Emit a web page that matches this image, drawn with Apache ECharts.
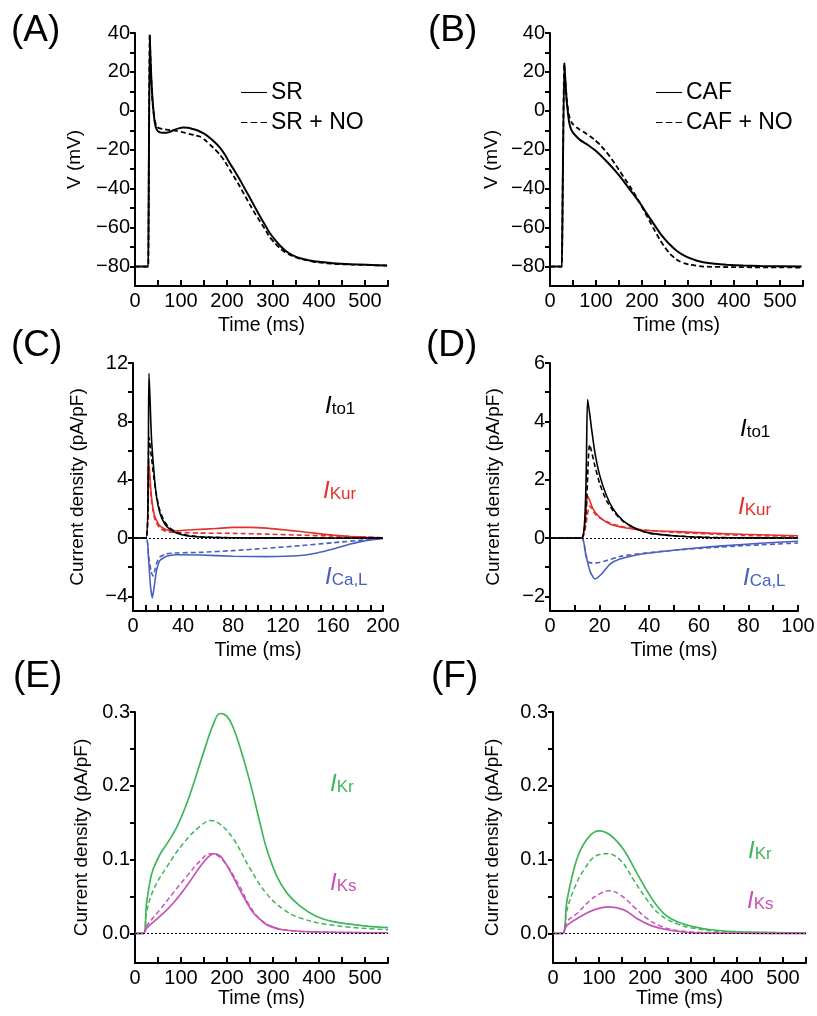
<!DOCTYPE html>
<html>
<head>
<meta charset="utf-8">
<title>AP and ionic currents, SR vs CAF, with NO</title>
<script src="https://cdn.jsdelivr.net/npm/echarts@6.0.0/dist/echarts.min.js"></script>
<style>
html,body{margin:0;padding:0;background:#fff;}
#main{width:817px;height:1016px;}
</style>
</head>
<body>
<div id="main"></div>
<script>
// ---------- data: [time (ms), value] ----------
// (A) action potential, sinus rhythm (mV)
const apSR = [[0,-80],[29,-80],[30.5,-80],[32,39],[34,25],[36,14],[38,6],[40,0.5],[43,-6],[47,-9.5],[52,-10.8],[60,-11.3],[68,-11.2],[76,-10.8],[85,-9.8],[95,-9],[105,-8.6],[115,-8.7],[120,-8.9],[130,-9.6],[141,-10.6],[152,-12],[163,-14],[174,-16.3],[185,-19],[196,-22.7],[206,-26.9],[217,-31],[228,-35.4],[239,-40.1],[250,-44.8],[261,-49.6],[272,-54.3],[283,-58.8],[293,-62.8],[304,-66.2],[315,-69.2],[326,-71.6],[337,-73.5],[348,-74.8],[359,-75.7],[380,-76.9],[400,-77.6],[431,-78.3],[470,-78.8],[504,-79.1],[548,-79.5]];
const apSRNO = [[0,-80],[29,-80],[30.5,-80],[32,38.5],[34,24],[36,13],[38,5],[40,0],[43,-5],[47,-7.8],[52,-8.9],[60,-9.3],[69,-9.7],[80,-10],[90,-10.3],[100,-10.8],[110,-11.4],[120,-12],[130,-12.5],[141,-13.2],[152,-15],[163,-17.4],[174,-19.8],[185,-22.6],[196,-26.2],[206,-30.3],[217,-34.5],[228,-38.9],[239,-43.6],[250,-48.3],[261,-52.8],[272,-56.9],[283,-61],[293,-64.9],[304,-68],[315,-70.6],[326,-72.6],[337,-74],[348,-75.1],[359,-76],[380,-77.1],[395,-77.8],[431,-78.6],[470,-79],[548,-79.5]];
// (B) action potential, chronic AF (mV)
const apCAF = [[0,-80],[26,-80],[27.5,-80],[31,24.5],[33,17],[36,5.7],[39,-1],[42,-6.3],[46,-9.5],[50.7,-11.4],[58,-13.3],[65,-14.9],[76,-16.6],[87,-18.3],[98,-20.3],[108.7,-22.6],[119,-25],[130,-27.7],[141,-30.6],[152,-33.7],[163,-37.1],[174,-40.6],[185,-44],[195.7,-47.4],[206,-51.2],[217,-55.1],[228,-59],[239,-62.8],[250,-66],[261,-68.8],[272,-71.2],[282.6,-73.1],[293,-74.5],[304,-75.7],[318,-76.9],[333,-77.8],[358,-78.6],[384,-79.1],[420,-79.5],[456,-79.7],[547,-80]];
const apCAFNO = [[0,-80],[26,-80],[27.5,-80],[31,24],[33,17.5],[36,7],[39,1],[42,-2.9],[46,-5.5],[50.7,-7.1],[58,-8.6],[65,-9.7],[76,-11.3],[87,-13.1],[98,-15.1],[108.7,-17.4],[119,-20.2],[130,-23.4],[141,-27.2],[152,-31.1],[163,-35],[174,-38.9],[185,-43.1],[195.7,-47.4],[206,-52.1],[217,-56.9],[228,-61.7],[239,-66.3],[250,-70.2],[261,-73.5],[272,-75.8],[282.6,-77.4],[293,-78.4],[304,-79.1],[333,-80],[400,-80.3],[547,-80.5]];

// (C) SR currents (pA/pF)
const srTo1 = [[0,0],[10.5,0],[12.8,11.3],[14.7,7],[16.6,4.7],[18.7,2.9],[21.4,1.75],[25.4,0.95],[29.4,0.61],[34.8,0.34],[42.8,0.16],[53.5,0.07],[80,0.02],[120,0.01],[200,0]];
const srTo1NO = [[0,0],[10.5,0],[12.8,6.9],[14.7,5.6],[16.6,4.2],[18.7,3],[21.4,1.9],[25.4,1.1],[29.4,0.7],[34.8,0.4],[42.8,0.2],[53.5,0.09],[80,0.02],[200,0]];
const srKur = [[0,0],[10.5,0],[12.5,5.4],[14.7,2.9],[17.4,1.5],[21.4,0.84],[26.7,0.57],[34.8,0.5],[48,0.57],[67,0.66],[80,0.73],[93.6,0.73],[107,0.68],[120,0.57],[134,0.45],[147,0.32],[160,0.2],[174,0.11],[187,0.05],[200,0.02]];
const srKurNO = [[0,0],[10.5,0],[12.5,4.7],[14.7,2.6],[17.4,1.3],[21.4,0.7],[26.7,0.45],[34.8,0.39],[53.5,0.34],[80,0.32],[107,0.27],[134,0.2],[160,0.14],[187,0.07],[200,0.02]];
const srCaL = [[0,0],[10.5,0],[12.5,-1.5],[14,-3.3],[15.5,-4.1],[17,-3.3],[18.7,-2.3],[21.4,-1.55],[26.7,-1.25],[34.8,-1.14],[53.5,-1.16],[80,-1.25],[107,-1.27],[134,-1.2],[147,-1.02],[160,-0.75],[174,-0.41],[187,-0.16],[200,-0.02]];
const srCaLNO = [[0,0],[10.5,0],[12.5,-1.2],[14.5,-2.3],[16,-2.6],[17.5,-2.2],[19,-1.7],[21.4,-1.3],[26.7,-1.09],[34.8,-1.02],[53.5,-0.98],[80,-0.86],[107,-0.7],[134,-0.52],[160,-0.32],[187,-0.11],[200,-0.02]];

// (D) CAF currents (pA/pF)
const cafTo1 = [[0,0],[12.75,0],[15.2,4.75],[16.8,3.72],[18.1,2.93],[20.1,2.13],[22.8,1.45],[25.5,0.99],[29.5,0.59],[34.9,0.31],[40.3,0.17],[51,0.07],[64.4,0.02],[100,0]];
const cafTo1NO = [[0,0],[12.75,0],[16,3.2],[18.1,2.47],[20.1,1.85],[22.8,1.28],[25.5,0.93],[29.5,0.57],[34.9,0.31],[40.3,0.16],[51,0.07],[64.4,0.02],[100,0]];
const cafKur = [[0,0],[12.75,0],[15.2,1.45],[17.4,0.99],[20.1,0.71],[24.2,0.48],[29.5,0.36],[37.6,0.27],[51,0.22],[64.4,0.17],[77.8,0.13],[100,0.08]];
const cafKurNO = [[0,0],[12.75,0],[16,1.1],[18.8,0.76],[24.2,0.51],[30.9,0.36],[37.6,0.28],[51,0.19],[64.4,0.14],[77.8,0.09],[100,0.06]];
const cafCaL = [[0,0],[12.75,0],[14.5,-0.6],[16.2,-1.15],[18.1,-1.4],[20.8,-1.23],[24.2,-0.89],[28.2,-0.72],[34.9,-0.58],[44.3,-0.47],[57.7,-0.35],[71,-0.26],[84.6,-0.18],[100,-0.11]];
const cafCaLNO = [[0,0],[12.75,0],[14.5,-0.6],[16,-0.85],[18.8,-0.85],[22.8,-0.77],[28.2,-0.63],[37.6,-0.52],[51,-0.41],[64.4,-0.33],[77.8,-0.26],[100,-0.17]];

// (E) SR delayed rectifiers (pA/pF)
const srKr = [[0,0],[18,0],[25,0.04],[33,0.072],[40,0.088],[55,0.108],[70,0.122],[90,0.143],[110,0.172],[130,0.208],[150,0.247],[170,0.283],[185,0.298],[200,0.294],[214,0.278],[228,0.253],[250,0.205],[272,0.149],[286,0.115],[308,0.078],[330,0.055],[359,0.037],[395,0.023],[431,0.016],[504,0.01],[550,0.008]];
const srKrNO = [[0,0],[18,0],[25,0.028],[40,0.059],[69,0.09],[105,0.122],[141,0.145],[165,0.153],[185,0.148],[214,0.128],[250,0.088],[286,0.054],[322,0.033],[359,0.021],[431,0.011],[550,0.005]];
const srKs = [[0,0],[18,0],[25,0.007],[54,0.023],[83,0.041],[112,0.064],[141,0.09],[160,0.104],[172,0.108],[185,0.105],[199,0.093],[214,0.076],[228,0.059],[243,0.042],[257,0.028],[272,0.019],[286,0.012],[322,0.005],[400,0.002],[550,0.001]];
const srKsNO = [[0,0],[18,0],[25,0.01],[54,0.032],[83,0.055],[112,0.077],[141,0.098],[163,0.108],[175,0.107],[199,0.093],[228,0.063],[257,0.03],[286,0.013],[322,0.005],[400,0.002],[550,0.001]];

// (F) CAF delayed rectifiers (pA/pF)
const cafKr = [[0,0],[20,0],[30.5,0.045],[45,0.086],[59.6,0.113],[81,0.133],[100,0.139],[125,0.133],[154,0.113],[183,0.081],[212,0.05],[241,0.027],[270,0.016],[307,0.009],[343,0.005],[416,0.002],[550,0.001]];
const cafKrNO = [[0,0],[20,0],[30.5,0.032],[45,0.059],[67,0.086],[96,0.106],[118,0.108],[147,0.099],[176,0.072],[205,0.045],[234,0.025],[270,0.013],[307,0.007],[380,0.002],[550,0.001]];
const cafKs = [[0,0],[20,0],[30.5,0.011],[60,0.023],[89,0.032],[121,0.036],[154,0.032],[183,0.02],[212,0.011],[249,0.005],[307,0.001],[550,0]];
const cafKsNO = [[0,0],[20,0],[30.5,0.016],[52,0.027],[81,0.045],[103,0.054],[121,0.058],[147,0.052],[176,0.036],[205,0.02],[234,0.01],[270,0.004],[343,0.001],[550,0]];

// ---------- tick values ----------
const ticksT550 = [50,100,150,200,250,300,350,400,450,500,550];
const labelsT550 = [0,100,200,300,400,500];
const ticksT200 = [10,20,30,40,50,60,70,80,90,100,110,120,130,140,150,160,170,180,190,200];
const labelsT200 = [0,40,80,120,160,200];
const ticksT100 = [10,20,30,40,50,60,70,80,90,100];
const labelsT100 = [0,20,40,60,80,100];
const ticksV = [-80,-70,-60,-50,-40,-30,-20,-10,0,10,20,30,40];
const labelsV = [-80,-60,-40,-20,0,20,40];
const ticksC = [-4,-2,0,2,4,6,8,10,12];
const labelsC = [-4,0,4,8,12];
const ticksD = [-2,-1,0,1,2,3,4,5,6];
const labelsD = [-2,0,2,4,6];
const ticksK = [0,0.05,0.1,0.15,0.2,0.25,0.3];
const labelsK = [0,0.1,0.2,0.3];

const FONT = '"Liberation Sans", Arial, Helvetica, sans-serif';
const RED = '#e5302c', BLUE = '#4a60bf', GREEN = '#40b55a', MAGENTA = '#c653b6';
const SOLID_ICON = 'path://M0,0h24v1h-24z';
const DASH_ICON = 'path://M0,0h6v1h-6zM9,0h6v1h-6zM18,0h6v1h-6z';
const minus = v => String(v).replace('-', '\u2212');
const fix1 = v => Number(v).toFixed(1);

function grid(left, top, width, height){
    return {left, top, width, height, outerBoundsMode: 'none', containLabel: false};
}
function xAxis(i, max, ticks, labels, nameGap){
    return {
        type:'value', gridIndex:i, min:0, max:max, position:'bottom',
        name:'Time (ms)', nameLocation:'middle', nameGap:nameGap,
        nameTextStyle:{fontSize:19.5, fontFamily:FONT, color:'#000'},
        axisLine:{show:true, onZero:false, lineStyle:{color:'#000', width:2}},
        axisTick:{show:true, inside:true, length:6, customValues:ticks, lineStyle:{color:'#000', width:2}},
        axisLabel:{customValues:labels, fontSize:20, fontFamily:FONT, color:'#000', margin:5},
        splitLine:{show:false}
    };
}
function yAxis(i, min, max, ticks, labels, name, nameGap, fmt){
    return {
        type:'value', gridIndex:i, min:min, max:max, position:'left',
        name:name, nameLocation:'middle', nameGap:nameGap,
        nameTextStyle:{fontSize:19, fontFamily:FONT, color:'#000'},
        axisLine:{show:true, onZero:false, lineStyle:{color:'#000', width:2}},
        axisTick:{show:true, inside:false, length:5, customValues:ticks, lineStyle:{color:'#000', width:2}},
        axisLabel:{customValues:labels, formatter:fmt, fontSize:20, fontFamily:FONT, color:'#000', margin:5},
        splitLine:{show:false}
    };
}
function line(name, data, i, color, dashed, width, smooth){
    return {
        name:name, type:'line', xAxisIndex:i, yAxisIndex:i, data:data,
        symbol:'none', smooth:smooth, silent:true,
        lineStyle:{color:color, width:width, type: dashed ? [5,3] : 'solid'},
        itemStyle:{color:color}
    };
}
function zero(s){
    s.markLine = {
        silent:true, symbol:'none', animation:false,
        label:{show:false},
        lineStyle:{color:'#000', width:1, type:[2,2]},
        data:[{yAxis:0}]
    };
    return s;
}
function legend(names, left){
    return {
        data:[{name:names[0], icon:SOLID_ICON}, {name:names[1], icon:DASH_ICON}],
        left:left, top:76, orient:'vertical', itemWidth:26, itemHeight:2.5, itemGap:7,
        selectedMode:false, itemStyle:{color:'#000', borderWidth:0},
        textStyle:{fontSize:23, fontFamily:FONT, color:'#000', padding:[0,0,0,-1]}
    };
}
function panelLabel(txt, left, top){
    return {type:'text', left:left, top:top, style:{text:txt, font:'37px ' + FONT, fill:'#000'}};
}
function current(sub, color, left, top){
    return {
        type:'text', left:left, top:top,
        style:{
            text:'{i|I}{s|' + sub + '}', fill:color,
            rich:{
                i:{fontSize:24, fontStyle:'italic', fontFamily:FONT, fill:color, verticalAlign:'bottom'},
                s:{fontSize:17, fontFamily:FONT, fill:color, verticalAlign:'bottom'}
            }
        }
    };
}

const chart = echarts.init(document.getElementById('main'), null, {renderer:'canvas'});
const option = {
    animation:false,
    backgroundColor:'#fff',
    textStyle:{fontFamily:FONT},
    grid:[
        grid(135, 33, 253, 253),
        grid(550, 33, 253, 253),
        grid(133, 363, 250, 248),
        grid(550, 363, 248, 248),
        grid(135, 712, 253, 251),
        grid(553, 712, 253, 251)
    ],
    xAxis:[
        xAxis(0, 550, ticksT550, labelsT550, 30),
        xAxis(1, 550, ticksT550, labelsT550, 30),
        xAxis(2, 200, ticksT200, labelsT200, 30),
        xAxis(3, 100, ticksT100, labelsT100, 30),
        xAxis(4, 550, ticksT550, labelsT550, 26),
        xAxis(5, 550, ticksT550, labelsT550, 26)
    ],
    yAxis:[
        yAxis(0, -90, 40, ticksV, labelsV, 'V (mV)', 51, minus),
        yAxis(1, -90, 40, ticksV, labelsV, 'V (mV)', 49, minus),
        yAxis(2, -5, 12, ticksC, labelsC, 'Current density (pA/pF)', 46, minus),
        yAxis(3, -2.5, 6, ticksD, labelsD, 'Current density (pA/pF)', 47, minus),
        yAxis(4, -0.04, 0.3, ticksK, labelsK, 'Current density (pA/pF)', 44, fix1),
        yAxis(5, -0.04, 0.3, ticksK, labelsK, 'Current density (pA/pF)', 51, fix1)
    ],
    legend:[
        legend(['SR','SR + NO'], 236),
        legend(['CAF','CAF + NO'], 651)
    ],
    series:[
        line('SR + NO', apSRNO, 0, '#000', true, 1.8, 0.2),
        line('SR', apSR, 0, '#000', false, 2, 0.2),
        line('CAF + NO', apCAFNO, 1, '#000', true, 1.8, 0.2),
        line('CAF', apCAF, 1, '#000', false, 2, 0.2),

        zero(line('Kur SR', srKur, 2, RED, false, 1.6, 0.2)),
        line('Kur SR+NO', srKurNO, 2, RED, true, 1.6, 0.2),
        line('CaL SR', srCaL, 2, BLUE, false, 1.6, 0.2),
        line('CaL SR+NO', srCaLNO, 2, BLUE, true, 1.6, 0.2),
        line('to1 SR+NO', srTo1NO, 2, '#000', true, 1.6, 0.2),
        line('to1 SR', srTo1, 2, '#000', false, 1.6, 0.2),

        zero(line('Kur CAF', cafKur, 3, RED, false, 1.6, 0.2)),
        line('Kur CAF+NO', cafKurNO, 3, RED, true, 1.6, 0.2),
        line('CaL CAF', cafCaL, 3, BLUE, false, 1.6, 0.2),
        line('CaL CAF+NO', cafCaLNO, 3, BLUE, true, 1.6, 0.2),
        line('to1 CAF+NO', cafTo1NO, 3, '#000', true, 1.6, 0.2),
        line('to1 CAF', cafTo1, 3, '#000', false, 1.6, 0.2),

        zero(line('Kr SR', srKr, 4, GREEN, false, 1.7, 0.4)),
        line('Kr SR+NO', srKrNO, 4, GREEN, true, 1.5, 0.4),
        line('Ks SR', srKs, 4, MAGENTA, false, 1.7, 0.4),
        line('Ks SR+NO', srKsNO, 4, MAGENTA, true, 1.5, 0.4),

        zero(line('Kr CAF', cafKr, 5, GREEN, false, 1.7, 0.4)),
        line('Kr CAF+NO', cafKrNO, 5, GREEN, true, 1.5, 0.4),
        line('Ks CAF', cafKs, 5, MAGENTA, false, 1.7, 0.4),
        line('Ks CAF+NO', cafKsNO, 5, MAGENTA, true, 1.5, 0.4)
    ],
    graphic:{elements:[
        panelLabel('(A)', 11, 12),
        panelLabel('(B)', 428, 12),
        panelLabel('(C)', 11, 327),
        panelLabel('(D)', 426, 327),
        panelLabel('(E)', 13, 658),
        panelLabel('(F)', 431, 658),
        current('to1', '#000', 325, 394),
        current('Kur', RED, 323, 479),
        current('Ca,L', BLUE, 325, 565),
        current('to1', '#000', 740, 417),
        current('Kur', RED, 738, 495),
        current('Ca,L', BLUE, 743, 566),
        current('Kr', GREEN, 330, 772),
        current('Ks', MAGENTA, 330, 871),
        current('Kr', GREEN, 748, 839),
        current('Ks', MAGENTA, 747, 889)
    ]}
};
chart.setOption(option);
</script>
</body>
</html>
